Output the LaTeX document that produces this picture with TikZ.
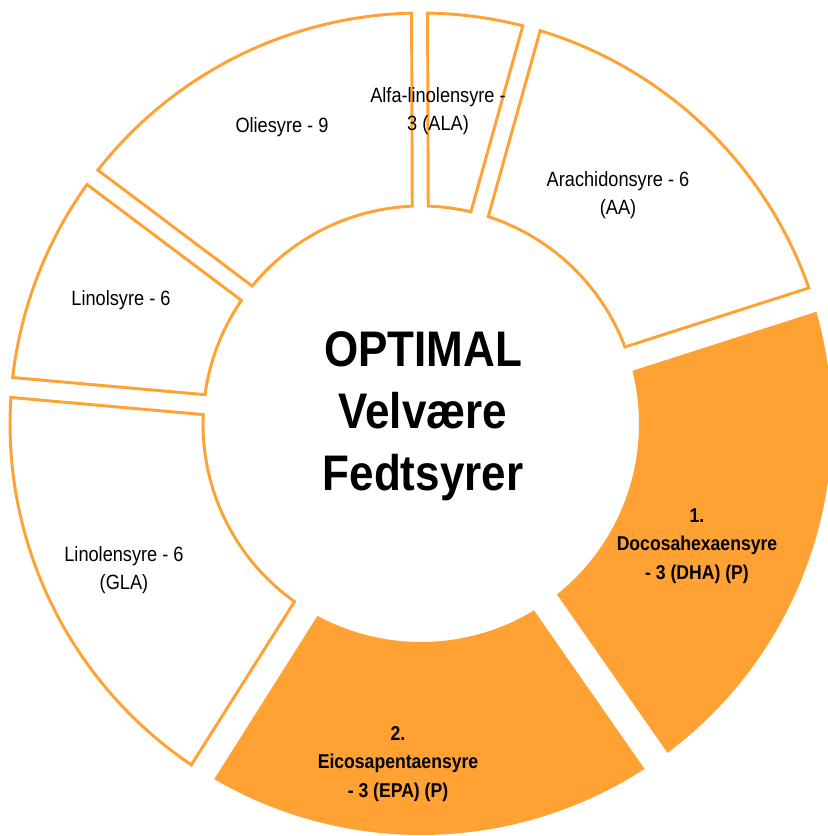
\documentclass[tikz,border=0pt]{standalone}
\usepackage{fontspec}
\setmainfont{Liberation Sans}[FakeStretch=0.88]
\usetikzlibrary{calc}
\definecolor{fedtorange}{HTML}{FFA133}
\newcommand{\Rout}{411}
\newcommand{\Rin}{218}
% ring segment: style, start gap, start offset, end gap, end offset
\newcommand{\ringseg}[5]{%
   \pgfmathsetmacro{\oa}{#2+asin(#3/\Rout)}
   \pgfmathsetmacro{\ob}{#4-asin(#5/\Rout)}
   \pgfmathsetmacro{\ia}{#2+asin(#3/\Rin)}
   \pgfmathsetmacro{\ib}{#4-asin(#5/\Rin)}
   \path[#1] (\oa:\Rout) arc[start angle=\oa, end angle=\ob, radius=\Rout]
      -- (\ib:\Rin) arc[start angle=\ib, end angle=\ia, radius=\Rin] -- cycle;}
\tikzset{
   openseg/.style={draw=fedtorange, line width=2.2pt, line join=miter},
   fullseg/.style={fill=fedtorange},
   seglabel/.style={align=center, inner sep=0pt,
      font=\fontsize{15.5}{21.4}\selectfont},
   boldlabel/.style={seglabel, font=\fontsize{15}{21.6}\selectfont\bfseries},
   hublabel/.style={align=center, inner sep=0pt,
      font=\fontsize{37.5}{46.5}\selectfont\bfseries},
}
\begin{document}
\begin{tikzpicture}[x=0.75pt, y=0.75pt]
   \clip (0,0) rectangle (828,836);
   \begin{scope}[shift={(421,412)}]
      \ringseg{fullseg}{-55.1}{14}{17.8}{14}
      \ringseg{openseg}{17.8}{11}{74.4}{9}
      \ringseg{openseg}{74.4}{9}{90.2}{8}
      \ringseg{openseg}{90.2}{8}{143.1}{9}
      \ringseg{openseg}{143.1}{9}{174.9}{10}
      \ringseg{openseg}{174.9}{10}{237.7}{12}
      \ringseg{fullseg}{237.7}{15}{304.9}{14}
   \end{scope}
   \node[seglabel] (olie) at (282,709) {Oliesyre - 9};
   \node[seglabel] (ala) at (438,725) {Alfa-linolensyre -\\3 (ALA)};
   \node[seglabel] (aa) at (618,641) {Arachidonsyre - 6\\(AA)};
   \node[seglabel] (linol) at (121,536) {Linolsyre - 6};
   \node[seglabel] (gla) at (124,266) {Linolensyre - 6\\(GLA)};
   \node[boldlabel] (dha) at (697,290) {1.\\Docosahexaensyre\\- 3 (DHA) (P)};
   \node[boldlabel] (epa) at (398,72) {2.\\Eicosapentaensyre\\- 3 (EPA) (P)};
   \node[hublabel] (hub) at (423,420) {OPTIMAL\\Velvære\\Fedtsyrer};
\end{tikzpicture}
\end{document}
